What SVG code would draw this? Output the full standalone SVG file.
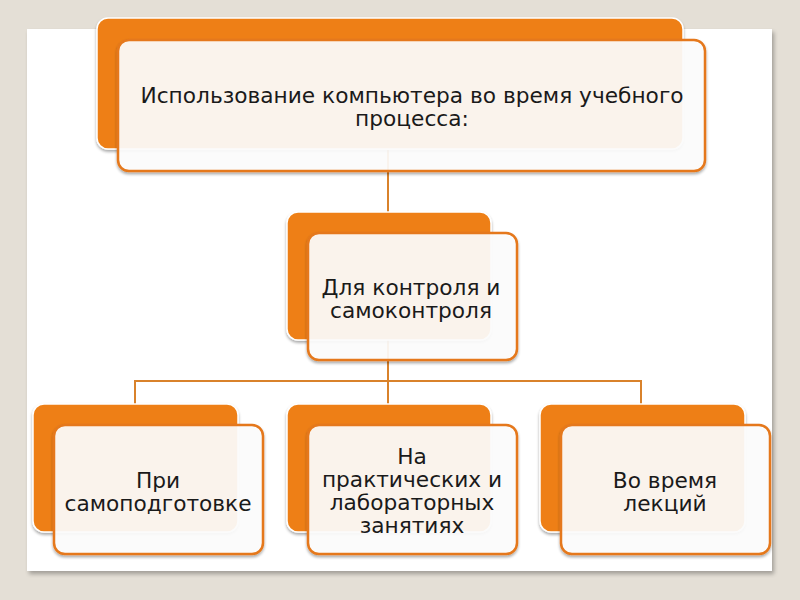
<svg xmlns="http://www.w3.org/2000/svg" width="800" height="600" viewBox="0 0 800 600">
  <defs>
    <filter id="sh" x="-10%" y="-10%" width="120%" height="125%">
      <feGaussianBlur in="SourceAlpha" stdDeviation="1.5"/>
      <feOffset dx="0" dy="1.5" result="b"/>
      <feComponentTransfer><feFuncA type="linear" slope="0.35"/></feComponentTransfer>
      <feMerge><feMergeNode/><feMergeNode in="SourceGraphic"/></feMerge>
    </filter>
    <filter id="slidesh" x="-5%" y="-5%" width="110%" height="110%">
      <feGaussianBlur in="SourceAlpha" stdDeviation="2"/>
      <feOffset dx="2" dy="3"/>
      <feComponentTransfer><feFuncA type="linear" slope="0.3"/></feComponentTransfer>
      <feMerge><feMergeNode/><feMergeNode in="SourceGraphic"/></feMerge>
    </filter>
  </defs>
  <style>
    .back { fill: #EE7F12; stroke: #ffffff; stroke-width: 1.5; filter: url(#sh); }
    .front { fill: #ffffff; fill-opacity: 0.9; stroke: #E5781A; stroke-width: 2.5; filter: url(#sh); }
    .conn { stroke: #D9822B; stroke-width: 2; fill: none; }
    text { font-family: "DejaVu Sans", Verdana, sans-serif; font-size: 21.7px; fill: #1a1a1a; text-anchor: middle; }
  </style>
  <rect x="0" y="0" width="800" height="600" fill="#E4DFD6"/>
  <rect x="27" y="29" width="745" height="542" fill="#ffffff" filter="url(#slidesh)"/>

  <g id="connectors">
    <line class="conn" x1="388" y1="150" x2="388" y2="234"/>
    <line class="conn" x1="388" y1="340" x2="388" y2="381"/>
    <polyline class="conn" points="135,404 135,381 641,381 641,404"/>
    <line class="conn" x1="388" y1="381" x2="388" y2="426"/>
  </g>

  <g id="node-top">
    <rect class="back" x="97" y="18" width="586" height="131" rx="11"/>
    <rect class="front" x="118" y="40" width="587" height="131" rx="11"/>
    <text x="412" y="103">Использование компьютера во время учебного</text>
    <text x="412" y="126">процесса:</text>
  </g>

  <g id="node-control">
    <rect class="back" x="287" y="212" width="204" height="128" rx="11"/>
    <rect class="front" x="308" y="233" width="209" height="127" rx="11"/>
    <text x="411" y="295">Для контроля и</text>
    <text x="411" y="318">самоконтроля</text>
  </g>

  <g id="node-self">
    <rect class="back" x="33" y="404" width="205" height="128" rx="11"/>
    <rect class="front" x="54" y="425" width="209" height="129" rx="11"/>
    <text x="158" y="488">При</text>
    <text x="158" y="511">самоподготовке</text>
  </g>

  <g id="node-practice">
    <rect class="back" x="287" y="404" width="204" height="128" rx="11"/>
    <rect class="front" x="308" y="425" width="209" height="129" rx="11"/>
    <text x="412" y="464">На</text>
    <text x="412" y="487">практических и</text>
    <text x="412" y="510">лабораторных</text>
    <text x="412" y="533">занятиях</text>
  </g>

  <g id="node-lecture">
    <rect class="back" x="540" y="404" width="205" height="128" rx="11"/>
    <rect class="front" x="561" y="425" width="209" height="129" rx="11"/>
    <text x="665" y="488">Во время</text>
    <text x="665" y="511">лекций</text>
  </g>
</svg>
